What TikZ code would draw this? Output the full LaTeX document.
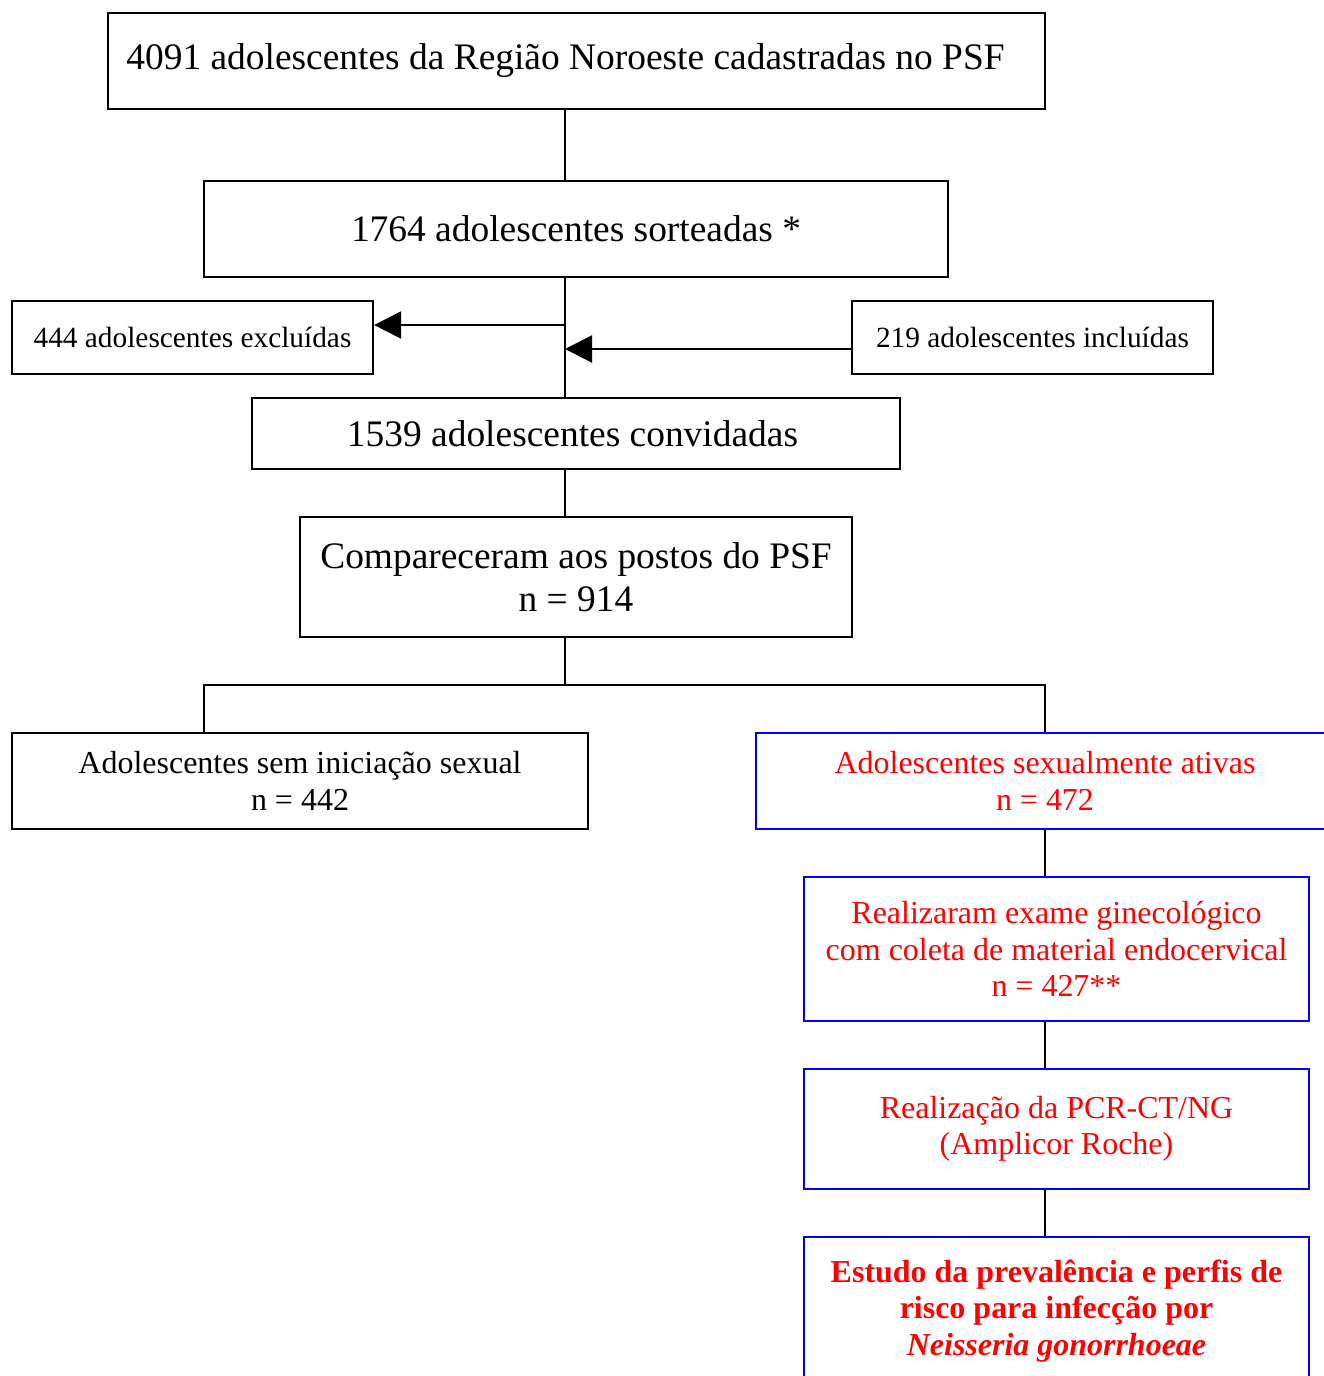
\documentclass[tikz,border=0pt]{standalone}
\usepackage{fontspec}
\setmainfont{Liberation Serif}
\usetikzlibrary{arrows.meta}
\definecolor{boxblue}{RGB}{0,0,255}
\definecolor{txtred}{RGB}{255,0,0}
\newcommand{\fbig}{\fontsize{21.3}{24.4}\selectfont}
\newcommand{\fmid}{\fontsize{18.2}{20.8}\selectfont}
\newcommand{\fsml}{\fontsize{16.7}{19}\selectfont}
\begin{document}
\begin{tikzpicture}[x=0.02cm, y=-0.02cm,
    box/.style={draw, line width=1.3pt, align=center, inner sep=0pt, font=\fbig},
    redbox/.style={box, draw=boxblue, text=txtred, font=\fmid},
    link/.style={line width=1.2pt},
    tip/.style={link, -{Triangle[length=0.54cm, width=0.54cm]}}]
  \useasboundingbox (0,0) rectangle (1324,1376);

  % Main column
  \node[box, minimum width=18.74cm, minimum height=1.92cm] (b1) at (576.5,61)
    {4091 adolescentes da Região Noroeste cadastradas no PSF\hspace*{0.44cm}};
  \node[box, minimum width=14.88cm, minimum height=1.92cm] (b2) at (576,229)
    {1764 adolescentes sorteadas *};
  \node[box, minimum width=12.96cm, minimum height=1.42cm] (b5) at (576,433.5)
    {1539 adolescentes convidadas\hspace*{0.14cm}};
  \node[box, minimum width=11.04cm, minimum height=2.4cm] (b6) at (576,577)
    {Compareceram aos postos do PSF\\ n = 914};

  % Side boxes
  \node[box, font=\fsml, minimum width=7.22cm, minimum height=1.46cm] (b3) at (192.5,337.5)
    {444 adolescentes excluídas};
  \node[box, font=\fsml, minimum width=7.22cm, minimum height=1.46cm] (b4) at (1032.5,337.5)
    {219 adolescentes incluídas};

  % Split
  \node[box, font=\fmid, minimum width=11.52cm, minimum height=1.92cm] (b7) at (300,781)
    {Adolescentes sem iniciação sexual\\ n = 442};
  \node[redbox, minimum width=11.56cm, minimum height=1.92cm] (b8) at (1045,781)
    {Adolescentes sexualmente ativas\\ n = 472};

  % Right column
  \node[redbox, minimum width=10.1cm, minimum height=2.88cm] (b9) at (1056.5,949)
    {Realizaram exame ginecológico\\ com coleta de material endocervical\\ n = 427**};
  \node[redbox, minimum width=10.1cm, minimum height=2.4cm] (b10) at (1056.5,1129)
    {Realização da PCR-CT/NG\\ (Amplicor Roche)};
  \node[redbox, font=\fmid\bfseries, minimum width=10.1cm, minimum height=2.96cm] (b11) at (1056.5,1311)
    {Estudo da prevalência e perfis de\\ risco para infecção por\\ \textit{Neisseria gonorrhoeae}};

  % Trunk
  \coordinate (t) at (565,0);
  \coordinate (ex) at (565,325);
  \coordinate (in) at (565,349);
  \coordinate (sp) at (565,685);
  \coordinate (l) at (204,685);
  \coordinate (r) at (1045,685);

  \draw[link] (b1.south -| t) -- (b2.north -| t);
  \draw[link] (b2.south -| t) -- (b5.north -| t);
  \draw[link] (b5.south -| t) -- (b6.north -| t);
  \draw[link] (b6.south -| t) -- (sp);
  \draw[tip] (ex) -- (ex -| b3.east);
  \draw[tip] (b4.west |- in) -- (in);

  \draw[link] (b7.north -| l) -- (l) -- (r) -- (b8.north);
  \draw[link] (b8.south) -- (b9.north -| b8.south);
  \draw[link] (b9.south -| b8.south) -- (b10.north -| b8.south);
  \draw[link] (b10.south -| b8.south) -- (b11.north -| b8.south);
\end{tikzpicture}
\end{document}
